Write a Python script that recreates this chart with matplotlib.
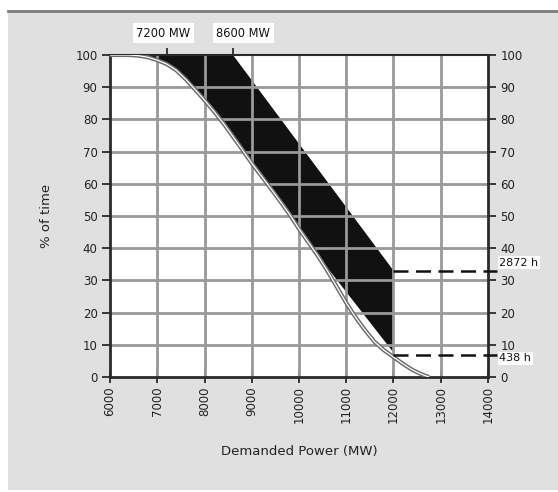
import matplotlib
matplotlib.use("Agg")
import matplotlib.pyplot as plt
import numpy as np
from matplotlib.patches import Rectangle
from matplotlib.lines import Line2D

# ---- data ----
curve_mw = [6000, 6400, 6600, 6800, 7000, 7200, 7400, 7600, 7800, 8000, 8200, 8400, 8600,
            8800, 9000, 9200, 9400, 9600, 9800, 10000, 10200, 10400, 10600, 10800, 11000,
            11200, 11400, 11600, 11800, 12000, 12200, 12400, 12600, 12750]
curve_pct = [100, 100, 99.8, 99.3, 98.4, 97.2, 95.3, 92.5, 89.3, 86, 82.5, 78.8, 74.7,
             70.6, 66.4, 62.5, 58.6, 54.6, 50.5, 46, 41.8, 37.6, 33, 28, 23,
             18.5, 14.5, 10.9, 8.3, 6.2, 4.1, 2.2, 0.8, 0]

upper_mw = [8600, 12000]
upper_pct = [100, 33]
inner_mw = [10500, 12000]     # straight inner edge of shaded band (lower part)
inner_pct = [35, 6.8]

x_ticks = [6000, 7000, 8000, 9000, 10000, 11000, 12000, 13000, 14000]
y_ticks = [0, 10, 20, 30, 40, 50, 60, 70, 80, 90, 100]
top_marks = [7200, 8600]
top_labels = ["7200 MW", "8600 MW"]
top_label_x = [7123, 8818]
hour_levels = [33, 6.8]
hour_labels = ["2872 h", "438 h"]
hour_label_pos = [35.5, 5.8]

W, H = 558, 492
fig = plt.figure(figsize=(W / 100, H / 100), dpi=100, facecolor="white")

# gray panel
fig.patches.append(Rectangle((8 / W, 2 / H), 1 - 8 / W, (479 - 2) / H, transform=fig.transFigure,
                             facecolor="#e0e0e0", edgecolor="none", zorder=-5))
fig.lines.append(Line2D([8 / W, 1], [1 - 11 / H, 1 - 11 / H], transform=fig.transFigure,
                        color="#7a7a7a", lw=2, zorder=-4))

left, right, top, bottom = 110, 488, 55, 377
ax = fig.add_axes([left / W, 1 - bottom / H, (right - left) / W, (bottom - top) / H])
ax.set_zorder(2)
ax.set_facecolor("white")
ax.set_xlim(6000, 14000)
ax.set_ylim(0, 100)

cm = np.array(curve_mw, float)
cp = np.array(curve_pct, float)

# shaded band
ys = np.linspace(100, 6.5, 600)
left_x = np.interp(ys, cp[::-1], cm[::-1])
inner_x = np.interp(ys, inner_pct[::-1], inner_mw[::-1])
left_edge = np.where(ys < inner_pct[0], np.maximum(left_x, inner_x), left_x)
right_x = np.interp(ys, upper_pct[::-1], upper_mw[::-1])
right_x = np.minimum(np.where(ys >= upper_pct[1], right_x, 12000), 12000)
ax.fill_betweenx(ys, left_edge + 40, right_x, color="#111111", lw=0, zorder=1)
# thin sliver along the top where curve leaves 100%
top_x = np.linspace(6550, 7300, 50)
ax.fill_between(top_x, np.interp(top_x, cm, cp) + 0.8, 100, color="#111111", lw=0, zorder=1)

# grid on top of fill
for xv in x_ticks[1:-1]:
    ax.axvline(xv, color="#999999", lw=2.0, zorder=2)
for yv in y_ticks[1:-1]:
    ax.axhline(yv, color="#999999", lw=2.0, zorder=2)

# load curve: gray outline with white core
ax.plot(cm, cp, color="#6a6a6a", lw=3.0, zorder=3, solid_capstyle="butt")
ax.plot(cm, cp, color="white", lw=0.9, zorder=4)

# dashed hour lines
for lv in hour_levels:
    ax.plot([12000, 14200], [lv, lv], color="#111111", lw=1.8, ls=(0, (6, 3)),
            zorder=5, clip_on=False)

for s in ["left", "bottom", "right"]:
    ax.spines[s].set_color("#2a2a2a")
    ax.spines[s].set_linewidth(2)
ax.spines["top"].set_color("#2a2a2a")
ax.spines["top"].set_linewidth(1.5)

ax.set_xticks(x_ticks)
ax.set_xticklabels([str(v) for v in x_ticks], rotation=90, fontsize=8.5, color="#222222")
ax.set_yticks(y_ticks)
ax.set_yticklabels([str(v) for v in y_ticks], fontsize=8.5, color="#222222")
ax.tick_params(axis="x", direction="inout", length=9, width=1.3, color="#2a2a2a", pad=2)
ax.tick_params(axis="y", direction="out", length=6, width=1.3, color="#2a2a2a", pad=3,
               right=True, labelright=True)

# top ticks
sec = ax.secondary_xaxis("top")
sec.set_xticks(top_marks)
sec.set_xticklabels([])
sec.tick_params(direction="inout", length=10, width=1.3, color="#2a2a2a")
sec.spines["top"].set_visible(False)

for xv, lab in zip(top_label_x, top_labels):
    ax.text(xv, 106.8, lab, ha="center", va="center", fontsize=8.3, color="#111111",
            bbox=dict(facecolor="white", edgecolor="none", pad=2.5), clip_on=False)

for yp, lab in zip(hour_label_pos, hour_labels):
    ax.text(14240, yp, lab, ha="left", va="center",
            fontsize=8.0, color="#111111",
            bbox=dict(facecolor="white", edgecolor="none", pad=1.2), clip_on=False, zorder=6)

ax.set_xlabel("Demanded Power (MW)", fontsize=9.5, color="#222222", labelpad=16)
ax.set_ylabel("% of time", fontsize=9.5, color="#222222", labelpad=16)

fig.savefig("out.png", dpi=100, facecolor="white")
